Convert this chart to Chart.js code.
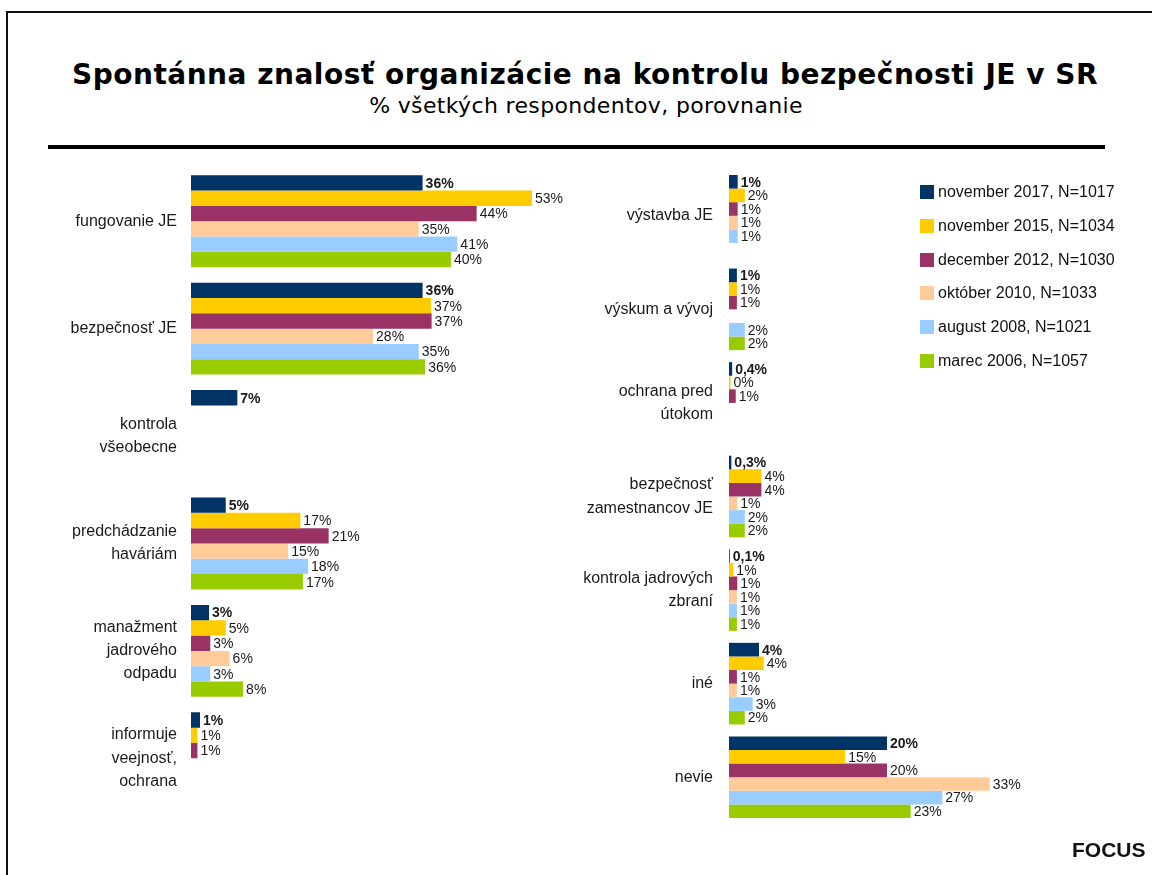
<!DOCTYPE html>
<html lang="sk">
<head>
<meta charset="utf-8">
<script src="https://cdn.jsdelivr.net/npm/chart.js@4.4.1/dist/chart.umd.min.js"></script>
<style>
  html, body { margin: 0; padding: 0; background: #fff; }
  body { width: 1152px; height: 875px; position: relative; overflow: hidden; font-family: "Liberation Sans", Arial, sans-serif; }
  #frame { position: absolute; left: 6px; top: 11px; width: 1300px; height: 1000px; border-top: 2px solid #111; border-left: 2px solid #111; }
  #title { position: absolute; left: 0; width: 1170px; top: 58px; text-align: center; font-family: "DejaVu Sans", Verdana, sans-serif; font-weight: bold; font-size: 28px; letter-spacing: 0.5px; color: #000; white-space: nowrap; }
  #subtitle { position: absolute; left: 0; width: 1172px; top: 93px; text-align: center; font-family: "DejaVu Sans", Verdana, sans-serif; font-size: 22px; letter-spacing: 0.35px; color: #000; white-space: nowrap; }
  #rule { position: absolute; left: 48px; top: 145px; width: 1057px; height: 4px; background: #000; }
  .box { position: absolute; }
  #legend { position: absolute; left: 920px; top: 182px; }
  .lg { position: absolute; left: 0; height: 20px; white-space: nowrap; font-size: 16px; color: #111; }
  .lg span.sw { position: absolute; left: 0; top: 3px; width: 14px; height: 14px; }
  .lg span.tx { position: absolute; left: 18px; top: 0; line-height: 20px; }
  #focus { position: absolute; left: 1072px; top: 838px; font-weight: bold; font-size: 21px; color: #111; }
</style>
</head>
<body>
<div id="frame"></div>
<div id="title">Spontánna znalosť organizácie na kontrolu bezpečnosti JE v SR</div>
<div id="subtitle">% všetkých respondentov, porovnanie</div>
<div id="rule"></div>
<div class="box" style="left:0px;top:160px;width:600px;height:660px;"><canvas id="leftChart"></canvas></div>
<div class="box" style="left:560px;top:160px;width:592px;height:680px;"><canvas id="rightChart"></canvas></div>
<div id="legend"></div>
<div id="focus">FOCUS</div>
<script>
// ---- series ----
const seriesNames = [
  "november 2017, N=1017",
  "november 2015, N=1034",
  "december 2012, N=1030",
  "október 2010, N=1033",
  "august 2008, N=1021",
  "marec 2006, N=1057"
];
const seriesColors = ["#003366", "#FFCC00", "#993366", "#FFCC99", "#99CCFF", "#99CC00"];

// ---- left panel ----
const leftCategories = [
  ["fungovanie JE"],
  ["bezpečnosť JE"],
  ["kontrola", "všeobecne"],
  ["predchádzanie", "haváriám"],
  ["manažment", "jadrového", "odpadu"],
  ["informuje", "veejnosť,", "ochrana"]
];
const leftNov2017 = [36, 36, 7.2, 5.4, 2.8, 1.4];
const leftNov2015 = [53, 37.3, null, 17, 5.4, 1];
const leftDec2012 = [44.4, 37.4, null, 21.4, 3, 1];
const leftOkt2010 = [35.4, 28.3, null, 15.1, 6, null];
const leftAug2008 = [41.4, 35.4, null, 18.2, 3, null];
const leftMar2006 = [40.4, 36.4, null, 17.4, 8.1, null];

// ---- right panel ----
const rightCategories = [
  ["výstavba JE"],
  ["výskum a vývoj"],
  ["ochrana pred", "útokom"],
  ["bezpečnosť", "zamestnancov JE"],
  ["kontrola jadrových", "zbraní"],
  ["iné"],
  ["nevie"]
];
const rightNov2017 = [1.1, 1, 0.4, 0.3, 0.1, 3.8, 20];
const rightNov2015 = [2, 1, 0.2, 4.1, 0.55, 4.4, 14.7];
const rightDec2012 = [1.1, 1, 0.85, 4.1, 1.05, 1, 20];
const rightOkt2010 = [1.1, null, null, 1.05, 1, 1, 33];
const rightAug2008 = [1.1, 2, null, 2, 1, 3, 27];
const rightMar2006 = [null, 2, null, 2, 1, 2, 23];

const leftSeries = [leftNov2017, leftNov2015, leftDec2012, leftOkt2010, leftAug2008, leftMar2006];
const rightSeries = [rightNov2017, rightNov2015, rightDec2012, rightOkt2010, rightAug2008, rightMar2006];

function fmt(v, di) {
  if (di === 0 && v < 1) return v.toFixed(1).replace('.', ',') + '%';
  return Math.round(v) + '%';
}

const valueLabels = {
  id: 'valueLabels',
  afterDatasetsDraw(chart) {
    const ctx = chart.ctx;
    chart.data.datasets.forEach((ds, di) => {
      const meta = chart.getDatasetMeta(di);
      meta.data.forEach((bar, i) => {
        const v = ds.data[i];
        if (v === null || v === undefined) return;
        ctx.save();
        ctx.font = (di === 0 ? 'bold ' : '') + '14px "Liberation Sans", Arial, sans-serif';
        ctx.fillStyle = '#1a1a1a';
        ctx.textAlign = 'left';
        ctx.textBaseline = 'middle';
        ctx.fillText(fmt(v, di), bar.x + 3, bar.y + 1);
        ctx.restore();
      });
    });
  }
};

function makeChart(id, cats, series, opts) {
  return new Chart(document.getElementById(id), {
    type: 'bar',
    data: {
      labels: cats,
      datasets: series.map((d, i) => ({
        label: seriesNames[i],
        data: d,
        backgroundColor: seriesColors[i],
        borderWidth: 0,
        categoryPercentage: opts.catPct,
        barPercentage: 1.0
      }))
    },
    options: {
      indexAxis: 'y',
      responsive: true,
      maintainAspectRatio: false,
      animation: false,
      layout: { padding: opts.padding },
      plugins: { legend: { display: false }, tooltip: { enabled: false } },
      scales: {
        x: { display: false, min: 0, max: opts.xMax },
        y: {
          grid: { display: false, drawTicks: false },
          border: { display: false },
          ticks: {
            padding: opts.tickPad,
            color: '#1a1a1a',
            font: { family: '"Liberation Sans", Arial, sans-serif', size: 16, lineHeight: 1.45 }
          },
          afterFit(scale) {
            scale.width = opts.axisWidth;
            scale.paddingTop = 0;
            scale.paddingBottom = 0;
          }
        }
      }
    },
    plugins: [valueLabels]
  });
}

makeChart('leftChart', leftCategories, leftSeries, {
  catPct: 0.855, xMax: 60, axisWidth: 191, tickPad: 14,
  padding: { left: 0, top: 7.5, bottom: 8, right: 23 }
});
makeChart('rightChart', rightCategories, rightSeries, {
  catPct: 0.872, xMax: 40, axisWidth: 169, tickPad: 16,
  padding: { left: 0, top: 9, bottom: 16, right: 107 }
});

// legend
const lg = document.getElementById('legend');
seriesNames.forEach((n, i) => {
  const row = document.createElement('div');
  row.className = 'lg';
  row.style.top = (i * 33.8) + 'px';
  const sw = document.createElement('span');
  sw.className = 'sw';
  sw.style.background = seriesColors[i];
  const tx = document.createElement('span');
  tx.className = 'tx';
  tx.textContent = n;
  row.appendChild(sw);
  row.appendChild(tx);
  lg.appendChild(row);
});
</script>
</body>
</html>
